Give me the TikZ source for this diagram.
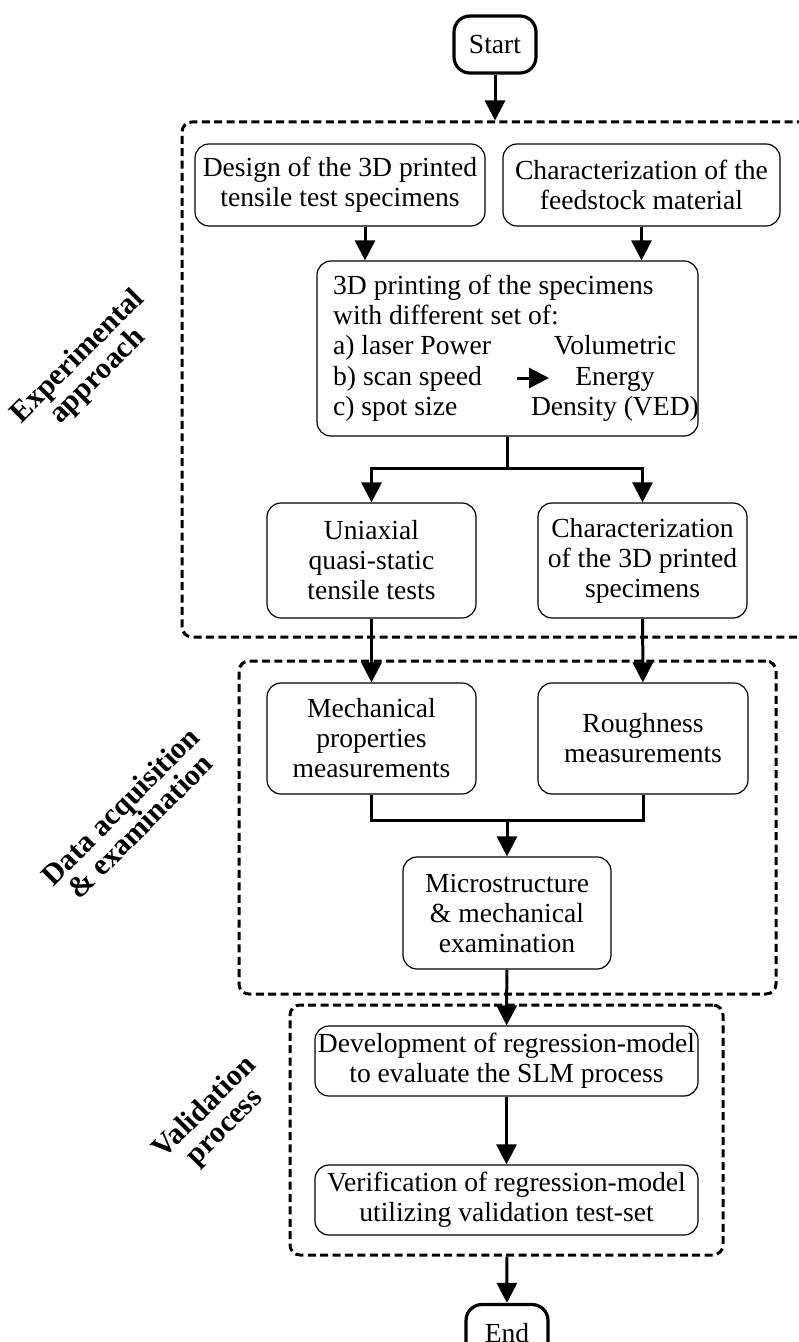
\documentclass[tikz,border=0pt]{standalone}
\usepackage{fontspec}
\setmainfont{Liberation Serif}
\usetikzlibrary{arrows.meta}

\begin{document}
\begin{tikzpicture}[x=0.5pt,y=-0.5pt,->,>={Triangle[length=10pt,width=10pt]},line width=1.5pt]
    \tikzstyle{every node}=[font=\fontsize{13.8}{15}\selectfont]
    \tikzstyle{block}=[draw, -, line width=0.6pt, rounded corners=7pt, align=center, inner sep=1pt]
    \tikzstyle{terminal}=[draw, -, line width=1.6pt, rounded corners=8pt, minimum width=41pt, minimum height=28.5pt]
    \tikzstyle{group}=[draw, -, line width=1.5pt, dash pattern=on 4pt off 2.2pt, rounded corners=5pt]
    \tikzstyle{grouplabel}=[rotate=45, align=center, font=\fontsize{15}{14}\selectfont\bfseries]

    \useasboundingbox (0,0) rectangle (798,1342);

    % dashed groups
    \node[group, minimum width=316.5pt, minimum height=257.5pt] (exp)   at (498.5,379.5) {};
    \node[group, minimum width=268.5pt, minimum height=166.5pt] (data)  at (507.5,827.5) {};
    \node[group, minimum width=216.5pt, minimum height=125pt]   (valid) at (506.5,1130)  {};

    \node[grouplabel] (explab)  at (88,367)   {Experimental\\approach};
    \node[grouplabel] (datalab) at (130,816)  {Data acquisition\\\& examination};
    \node[grouplabel] (vallab)  at (215,1118) {Validation\\process};

    % steps
    \node[terminal] (start) at (495,44.5) {Start};
    \node[block, minimum width=145pt, minimum height=41pt] (design) at (340,185)
        {Design of the 3D printed\\tensile test specimens};
    \node[block, minimum width=138.5pt, minimum height=41pt] (feed) at (641.5,185)
        {Characterization of the\\feedstock material};
    \node[block, minimum width=190.5pt, minimum height=87.5pt] (print) at (507.5,348.5) {};
    \node[inner sep=0pt] (printtxt) at (516,349) {%
      \begin{tabular}{@{}l@{\hspace{20pt}}c@{}}
        \multicolumn{2}{@{}l@{}}{3D printing of the specimens}\\
        \multicolumn{2}{@{}l@{}}{with different set of:}\\
        a) laser Power & Volumetric\\
        b) scan speed  & Energy\\
        c) spot size   & Density (VED)
      \end{tabular}};
    \coordinate (vedA) at (517,378);
    \coordinate (vedB) at (549,378);

    \node[block, minimum width=104.5pt, minimum height=57.5pt] (uni) at (371.5,560.5)
        {Uniaxial\\quasi-static\\tensile tests};
    \node[block, minimum width=104.5pt, minimum height=57.5pt] (char3d) at (642.5,560.5)
        {Characterization\\of the 3D printed\\specimens};
    \node[block, minimum width=104.5pt, minimum height=55.5pt] (mech) at (371.5,738.5)
        {Mechanical\\properties\\measurements};
    \node[block, minimum width=105pt, minimum height=55.5pt] (rough) at (643,738.5)
        {Roughness\\measurements};
    \node[block, minimum width=104pt, minimum height=56pt] (micro) at (507,913)
        {Microstructure\\\& mechanical\\examination};
    \node[block, minimum width=191.5pt, minimum height=35pt] (devel) at (506.5,1061)
        {Development of regression-model\\to evaluate the SLM process};
    \node[block, minimum width=191.5pt, minimum height=35pt] (verif) at (506.5,1200)
        {Verification of regression-model\\utilizing validation test-set};
    \node[terminal] (endn) at (507,1333) {End};

    \coordinate (split) at (507.5,468);
    \coordinate (merge) at (507,820);

    % connectors
    \draw (start) -- (start |- exp.north);
    \draw ([xshift=12.5pt]design.south) -- ([xshift=12.5pt]design.south |- print.north);
    \draw (feed.south) -- (feed.south |- print.north);
    \draw (vedA) -- (vedB);
    \draw[-] (print) -- (split);
    \draw (split) -| (uni);
    \draw (split) -| (char3d);
    \draw (uni) -- (mech);
    \draw (char3d) -- (rough);
    \draw[-] (mech) |- (merge);
    \draw[-] (rough) |- (merge);
    \draw (merge) -- (micro);
    \draw (micro) -- (devel);
    \draw (devel) -- (verif);
    \draw (valid) -- (endn);
\end{tikzpicture}
\end{document}
